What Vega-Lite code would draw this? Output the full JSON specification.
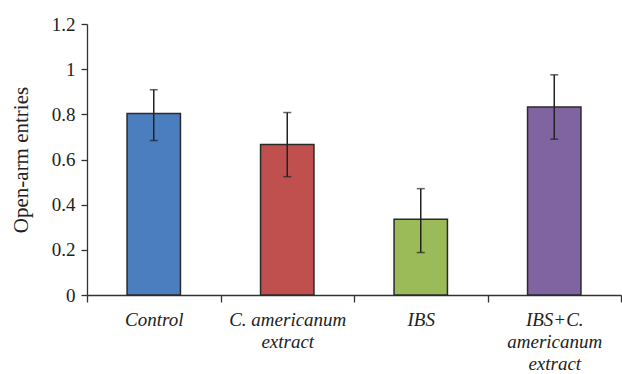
{
  "$schema": "https://vega.github.io/schema/vega-lite/v6.json",
  "width": 534,
  "height": 271,
  "autosize": {"type": "none"},
  "padding": {"left": 87, "top": 24, "right": 1, "bottom": 79},
  "background": "white",
  "config": {
    "view": {"stroke": null},
    "font": "Liberation Serif",
    "axis": {
      "domainColor": "#333333",
      "domainWidth": 1.3,
      "tickColor": "#333333",
      "tickWidth": 1.3,
      "grid": false,
      "labelFont": "Liberation Serif",
      "titleFont": "Liberation Serif",
      "labelColor": "#222222",
      "titleColor": "#222222"
    }
  },
  "data": {
    "values": [
      {"group": "Control", "mean": 0.804, "lo": 0.684, "hi": 0.909},
      {"group": "C. americanum extract", "mean": 0.666, "lo": 0.524, "hi": 0.808},
      {"group": "IBS", "mean": 0.335, "lo": 0.188, "hi": 0.471},
      {"group": "IBS+C. americanum extract", "mean": 0.832, "lo": 0.69, "hi": 0.975}
    ]
  },
  "encoding": {
    "x": {
      "field": "group",
      "type": "nominal",
      "sort": null,
      "scale": {"paddingInner": 0, "paddingOuter": 0},
      "axis": {
        "title": null,
        "labelAngle": 0,
        "labelFontStyle": "italic",
        "labelFontSize": 19,
        "labelLineHeight": 22,
        "labelPadding": 8,
        "tickSize": 7,
        "tickBand": "extent",
        "labelExpr": "datum.value == 'C. americanum extract' ? ['C.  americanum', 'extract'] : datum.value == 'IBS+C. americanum extract' ? ['IBS+C.', 'americanum', 'extract'] : datum.value"
      }
    }
  },
  "layer": [
    {
      "mark": {"type": "bar", "width": {"band": 0.4}, "stroke": "#2a2a2a", "strokeWidth": 1.5},
      "encoding": {
        "y": {
          "field": "mean",
          "type": "quantitative",
          "scale": {"domain": [0, 1.2], "nice": false},
          "axis": {
            "title": "Open-arm entries",
            "titleFontSize": 21,
            "titleFontWeight": "normal",
            "titlePadding": 20,
            "labelFontSize": 19,
            "labelPadding": 6,
            "tickSize": 6,
            "values": [0, 0.2, 0.4, 0.6, 0.8, 1, 1.2],
            "format": "~g"
          }
        },
        "color": {
          "field": "group",
          "type": "nominal",
          "sort": null,
          "legend": null,
          "scale": {"range": ["#4A7EBF", "#C0504D", "#9BBB59", "#8064A2"]}
        }
      }
    },
    {
      "mark": {"type": "rule", "color": "#222222", "strokeWidth": 1.5},
      "encoding": {
        "y": {"field": "lo", "type": "quantitative"},
        "y2": {"field": "hi"}
      }
    },
    {
      "mark": {"type": "tick", "color": "#222222", "thickness": 1.5, "size": 8},
      "encoding": {"y": {"field": "lo", "type": "quantitative"}}
    },
    {
      "mark": {"type": "tick", "color": "#222222", "thickness": 1.5, "size": 8},
      "encoding": {"y": {"field": "hi", "type": "quantitative"}}
    }
  ]
}
